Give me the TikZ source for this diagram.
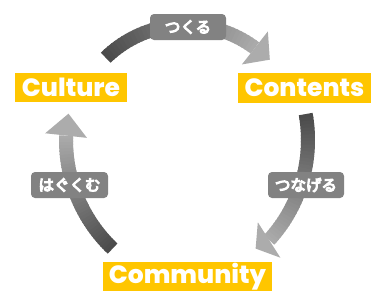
\documentclass[tikz,border=0pt]{standalone}
\usepackage{fontspec}
\newfontfamily\popb{Poppins ExtraBold}
\newfontfamily\jp{Noto Sans CJK JP}[FakeBold=7]
\definecolor{arcA}{RGB}{75,75,75}
\definecolor{arcB}{RGB}{170,170,170}
\definecolor{headC}{RGB}{172,172,172}
\definecolor{ylw}{RGB}{255,198,0}
\definecolor{lblgray}{RGB}{130,130,130}
% cx cy r tstart tend thead width headlen
\newcommand\myarc[8]{%
  \foreach \i in {0,...,39}{%
    \pgfmathsetmacro\aa{#4+(#5-#4)*\i/40}%
    \pgfmathsetmacro\bb{#4+(#5-#4)*min(\i+1.4,40)/40}%
    \pgfmathsetmacro\cc{100-100*\i/39}%
    \fill[color=arcA!\cc!arcB]
      ({#1+(#3-#7/2)*cos(\aa)},{#2+(#3-#7/2)*sin(\aa)}) --
      ({#1+(#3+#7/2)*cos(\aa)},{#2+(#3+#7/2)*sin(\aa)}) --
      ({#1+(#3+#7/2)*cos(\bb)},{#2+(#3+#7/2)*sin(\bb)}) --
      ({#1+(#3-#7/2)*cos(\bb)},{#2+(#3-#7/2)*sin(\bb)}) -- cycle;
  }%
  \pgfmathsetmacro\px{#1+#3*cos(#5)}%
  \pgfmathsetmacro\py{#2+#3*sin(#5)}%
  \fill[headC]
    ({\px+21*cos(#6)},{\py+21*sin(#6)}) --
    ({\px-21*cos(#6)},{\py-21*sin(#6)}) --
    ({\px-#8*sin(#6)},{\py+#8*cos(#6)}) -- cycle;
}
\tikzset{
  ybox/.style={fill=ylw, text=white, inner sep=0pt, font=\popb\fontsize{25}{25}\selectfont},
  lbl/.style={fill=lblgray, rounded corners=4pt, text=white, inner sep=0pt,
    minimum width=76pt, minimum height=26pt, font=\jp\fontsize{15.5}{15.5}\selectfont}
}
\begin{document}
\begin{tikzpicture}[x=1pt,y=-1pt]
\useasboundingbox (0,0) rectangle (384,306);
\fill[white] (0,0) rectangle (384,306);
% arcs
\myarc{186}{140}{115}{-134.3}{-53.2}{-51.8}{14}{19}
\myarc{160}{140}{148}{-10.1}{42.5}{57.5}{14}{16}
\myarc{216}{140}{150}{133.6}{181.7}{186.3}{14}{22}
% boxes
\node[ybox, minimum width=112pt, minimum height=29pt] (culture) at (71,87.5) {Culture};
\node[ybox, minimum width=133pt, minimum height=30pt] (contents) at (304.5,88) {Contents};
\node[ybox, minimum width=169pt, minimum height=29pt] (community) at (187.5,276.5) {Community};
% labels
\node[lbl] (tsukuru) at (188,27) {つくる};
\node[lbl] (tsunageru) at (306,185) {つなげる};
\node[lbl, minimum width=77pt] (hagukumu) at (69.5,185) {はぐくむ};
\end{tikzpicture}
\end{document}
